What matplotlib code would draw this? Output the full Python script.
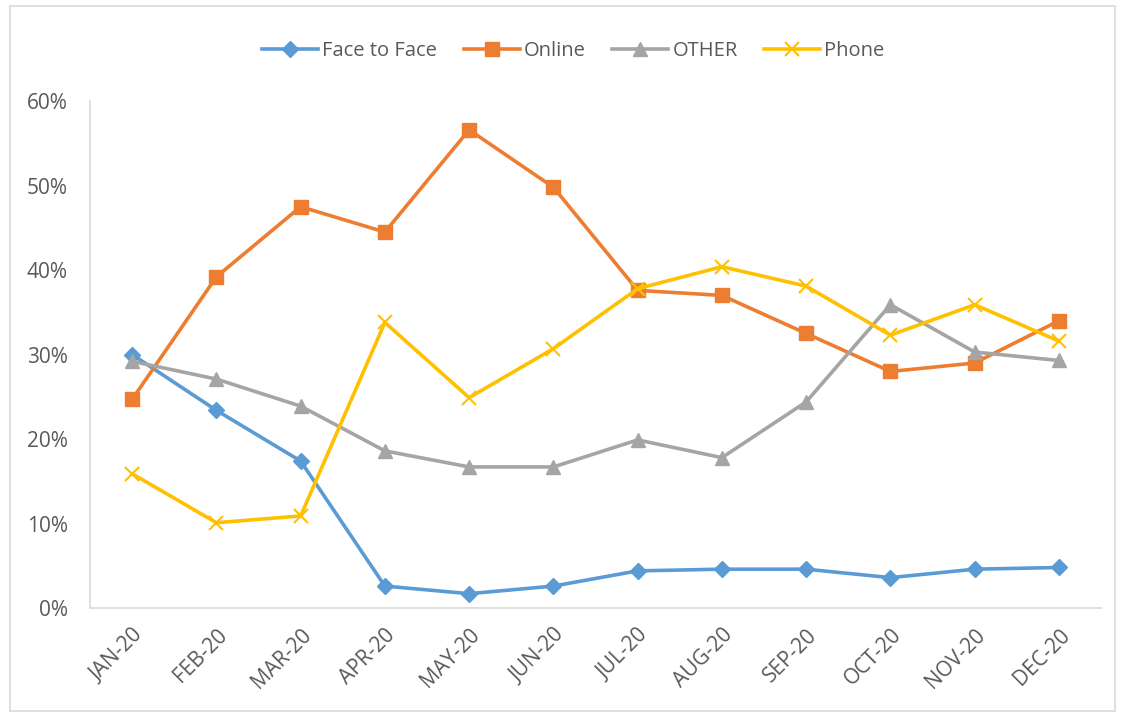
import matplotlib
matplotlib.use('Agg')
import matplotlib.pyplot as plt
from matplotlib.patches import Rectangle
from matplotlib.ticker import PercentFormatter

plt.rcParams['font.family'] = ['Open Sans', 'DejaVu Sans']

# datos
meses = ['JAN-20', 'FEB-20', 'MAR-20', 'APR-20', 'MAY-20', 'JUN-20',
         'JUL-20', 'AUG-20', 'SEP-20', 'OCT-20', 'NOV-20', 'DEC-20']
face_to_face = [0.300, 0.234, 0.174, 0.026, 0.017, 0.026, 0.044, 0.046, 0.046, 0.036, 0.046, 0.048]
online = [0.247, 0.392, 0.475, 0.445, 0.566, 0.498, 0.376, 0.370, 0.325, 0.280, 0.290, 0.340]
other = [0.292, 0.271, 0.239, 0.186, 0.167, 0.167, 0.199, 0.178, 0.244, 0.359, 0.303, 0.293]
phone = [0.159, 0.101, 0.109, 0.338, 0.249, 0.307, 0.378, 0.404, 0.381, 0.323, 0.359, 0.316]

gris_texto = '#595959'

fig = plt.figure(figsize=(11.25, 7.12), dpi=100)
ax = fig.add_axes([0.08, 0.146, 0.8987, 0.712])

x = range(len(meses))
ax.plot(x, face_to_face, color='#5B9BD5', lw=2.6, marker='D', ms=8, label='Face to Face')
ax.plot(x, online, color='#ED7D31', lw=2.6, marker='s', ms=10, label='Online')
ax.plot(x, other, color='#A5A5A5', lw=2.6, marker='^', ms=10, label='OTHER')
ax.plot(x, phone, color='#FFC000', lw=2.6, marker='x', ms=10, mew=1.5, label='Phone')

ax.set_xlim(-0.5, len(meses) - 0.5)
ax.set_ylim(0, 0.6)
ax.set_yticks([0, 0.1, 0.2, 0.3, 0.4, 0.5, 0.6])
ax.yaxis.set_major_formatter(PercentFormatter(1.0, decimals=0))
ax.set_xticks(list(x))
ax.set_xticklabels(meses, rotation=45, ha='right', rotation_mode='anchor')

for lado in ['top', 'right']:
    ax.spines[lado].set_visible(False)
for lado in ['left', 'bottom']:
    ax.spines[lado].set_color('#D9D9D9')
    ax.spines[lado].set_linewidth(1.2)
ax.tick_params(axis='both', length=0, labelsize=15, colors=gris_texto)
ax.tick_params(axis='y', pad=16)
ax.tick_params(axis='x', pad=12)

ax.legend(loc='upper center', bbox_to_anchor=(0.478, 1.155), ncol=4, frameon=False,
          fontsize=14.5, labelcolor=gris_texto, handlelength=2.8, columnspacing=1.3,
          handletextpad=0.2)

# borde del area del grafico
fig.patches.append(Rectangle((10 / 1125, 0.002), 1105 / 1125, 0.99, transform=fig.transFigure,
                             fill=False, edgecolor='#D9D9D9', lw=1.2))

fig.savefig('out.png', dpi=100)
